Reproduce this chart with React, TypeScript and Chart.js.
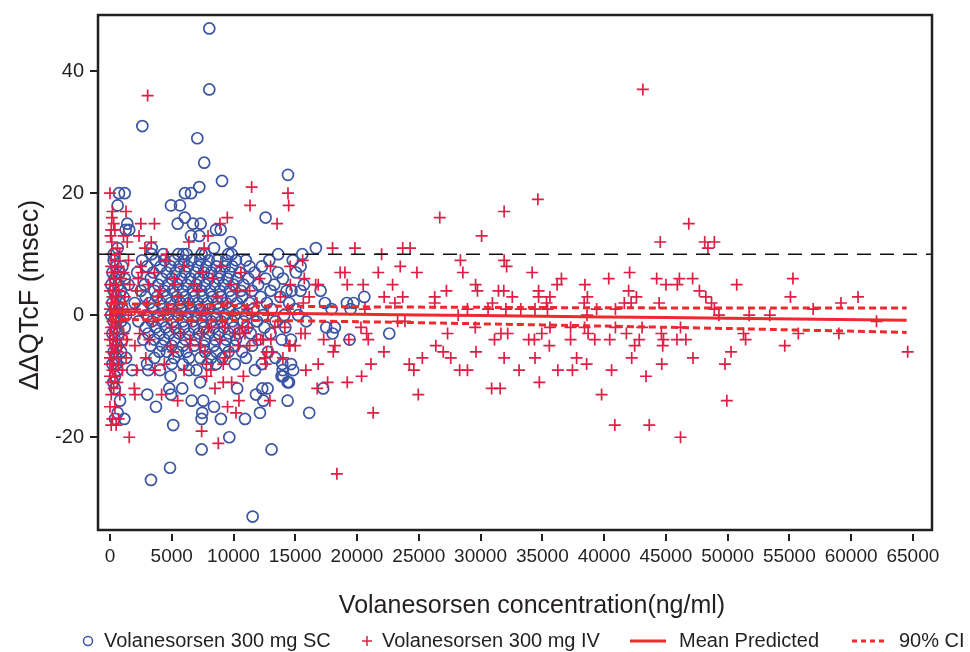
import React, { useEffect, useRef } from "react";
import { Chart, registerables } from "chart.js";

Chart.register(...registerables);

// ---------- axis settings ----------
const xTicks = [0, 5000, 10000, 15000, 20000, 25000, 30000, 35000, 40000, 45000, 50000, 55000, 60000, 65000];
const yTicks = [-20, 0, 20, 40];
const X_MIN = -970;
const X_MAX = 66550;
const Y_MIN = -35.2;
const Y_MAX = 49.2;

// ---------- Volanesorsen 300 mg SC: [ΔΔQTcF, concentrations...] ----------
const scRows: [number, number[]][] = [
  [47, [8040]],
  [37, [8040]],
  [31, [2620]],
  [29, [7070]],
  [25, [7630]],
  [23, [14410]],
  [22, [9070]],
  [21, [7230]],
  [20, [730, 1190, 6070, 6560]],
  [18, [620, 4940, 5670]],
  [16, [6050, 12600]],
  [15, [1400, 5480, 6720, 7340]],
  [14, [1270, 1560, 8580, 8960]],
  [13, [6560, 7230]],
  [12, [9790]],
  [11, [620, 3380, 8420, 16670]],
  [10, [300, 3370, 4310, 5530, 5930, 6210, 7420, 7690, 9580, 9850, 13620, 15570]],
  [9, [300, 2600, 3700, 4400, 5200, 6000, 6600, 7300, 8000, 8700, 9400, 10200, 11000, 12900, 14800]],
  [8, [500, 1000, 3000, 4100, 4900, 5600, 6300, 7100, 7800, 8600, 9300, 9900, 11300, 12300, 15430]],
  [7, [200, 800, 2200, 3500, 4600, 5300, 6100, 6900, 7600, 8200, 8900, 9700, 10500, 11700, 13600, 15060]],
  [6, [400, 1200, 3300, 4200, 5000, 5800, 6500, 7200, 8000, 8800, 9500, 10300, 11200, 12600, 14000]],
  [5, [100, 700, 1500, 2800, 3900, 4700, 5500, 6200, 7000, 7700, 8500, 9200, 10000, 10800, 12000, 13300, 15700]],
  [4, [300, 900, 2500, 3600, 4400, 5100, 5900, 6700, 7400, 8100, 8900, 9700, 10600, 11500, 13000, 14300, 14700, 15430, 17050]],
  [3, [500, 1100, 2900, 3800, 4600, 5400, 6100, 6800, 7500, 8300, 9000, 9800, 10700, 12200, 13800, 20590]],
  [2, [200, 800, 2000, 3200, 4100, 4900, 5700, 6400, 7100, 7900, 8700, 9400, 10300, 11300, 12700, 14500, 17400, 19180, 19720]],
  [1, [400, 1000, 2600, 3500, 4300, 5000, 5800, 6600, 7300, 8000, 8800, 9600, 10500, 11600, 13100, 15000, 17940, 19480]],
  [0, [100, 600, 1300, 3000, 3900, 4700, 5500, 6300, 7000, 7800, 8600, 9300, 10100, 11000, 12400, 14100, 15240]],
  [-1, [300, 900, 2300, 3400, 4200, 5100, 5900, 6700, 7500, 8200, 9000, 9900, 10800, 11900, 13400, 15890]],
  [-2, [500, 1200, 2900, 3700, 4500, 5300, 6000, 6800, 7600, 8400, 9200, 10000, 11100, 12500, 14200, 17510, 18210]],
  [-3, [200, 700, 3100, 4000, 4800, 5600, 6400, 7200, 8000, 8800, 9600, 10400, 11400, 13000, 18020, 22610]],
  [-4, [400, 1000, 2700, 3600, 4400, 5200, 6100, 6900, 7700, 8500, 9400, 10200, 12000, 13900, 14650, 19400]],
  [-5, [600, 3300, 4200, 5000, 5900, 6800, 7600, 8400, 9300, 10100, 11500]],
  [-6, [300, 900, 4000, 4600, 5500, 6200, 7700, 8600, 9600, 10700, 12800]],
  [-7, [500, 1300, 3600, 5200, 6400, 7300, 8200, 9100, 11000, 13400]],
  [-8, [200, 500, 3000, 5000, 5900, 7900, 8600, 10100, 12300, 13950, 14650]],
  [-9, [600, 1800, 3100, 4050, 6400, 7000, 11740, 13980, 14830]],
  [-10, [400, 4910, 13890, 14030]],
  [-11, [270, 7300, 14380, 14490]],
  [-12, [400, 4800, 5850, 10300, 12330, 12760, 17260]],
  [-13, [3020, 4940, 11820]],
  [-14, [810, 6610, 7550, 12410, 14380]],
  [-15, [3720, 8420]],
  [-16, [620, 7470, 12140, 16130]],
  [-17, [400, 1160, 7420, 8980, 10930]],
  [-18, [5120]],
  [-20, [9660]],
  [-22, [7420, 13080]],
  [-25, [4860]],
  [-27, [3320]],
  [-33, [11550]],
];

// ---------- Volanesorsen 300 mg IV: [ΔΔQTcF, concentrations...] ----------
const ivRows: [number, number[]][] = [
  [37, [43140]],
  [36, [3050]],
  [21, [11470]],
  [20, [0, 14410]],
  [19, [34640]],
  [18, [11340, 14470]],
  [17, [200, 1300, 31910]],
  [16, [150, 9500, 26700]],
  [15, [300, 2500, 3600, 8900, 13530, 46860]],
  [14, [100, 400]],
  [13, [50, 1100, 2350, 7940, 30090]],
  [12, [150, 1400, 3340, 6390, 44550, 48150, 48930]],
  [11, [600, 2830, 7620, 18020, 19830, 23700, 24300, 48410]],
  [10, [100, 800, 4590, 21990]],
  [9, [400, 1500, 4500, 15600, 28370, 31910]],
  [8, [100, 700, 2500, 6000, 9000, 13000, 14590, 23500, 32110]],
  [7, [150, 350, 1100, 2560, 3600, 7500, 10600, 18640, 19020, 21720, 24850, 28570, 34180, 42070]],
  [6, [300, 900, 2290, 5200, 8300, 12100, 15730, 36550, 40380, 44260, 46100, 47170, 55290]],
  [5, [0, 500, 1600, 3100, 5260, 6800, 9800, 14600, 16650, 16860, 19210, 20500, 22880, 29600, 36200, 38450, 45010, 45930, 50740]],
  [4, [0, 250, 700, 2200, 4050, 7100, 10300, 11300, 27240, 29750, 31450, 31880, 34700, 41990, 47720]],
  [3, [200, 450, 1200, 3900, 5500, 8700, 13800, 16130, 22200, 23700, 26290, 32570, 34700, 35620, 38650, 42620, 48240, 55090, 60560]],
  [2, [100, 350, 600, 3000, 6300, 9500, 11900, 15650, 23070, 26290, 30960, 35340, 38390, 41640, 42190, 44460, 48700, 59180]],
  [1, [0, 300, 1000, 2020, 4700, 5130, 7900, 11100, 14400, 20640, 28940, 30610, 32050, 33260, 34410, 35420, 39400, 40920, 48930, 56930]],
  [0, [0, 250, 500, 1500, 2700, 4300, 5800, 7400, 9900, 11500, 12800, 28190, 38620, 49300, 51750, 53420]],
  [-1, [200, 450, 800, 3500, 6600, 9100, 13600, 23290, 23880, 62060]],
  [-2, [100, 350, 600, 5000, 7960, 8200, 9310, 10700, 11200, 13350, 14160, 20320, 29570, 35620, 37290, 38420, 40920, 43080, 46190]],
  [-3, [0, 300, 1100, 2400, 5700, 7420, 10120, 10500, 10930, 15460, 15800, 20780, 27330, 31650, 32200, 34960, 38710, 41810, 44640, 51290, 55730, 59010]],
  [-4, [0, 250, 500, 1350, 3200, 6500, 8900, 11870, 12200, 12410, 13030, 17300, 19340, 20910, 31130, 33900, 34360, 37290, 39250, 40460, 42850, 44810, 45900, 46620, 51460]],
  [-5, [200, 450, 900, 2020, 4900, 6470, 7300, 10390, 11300, 14490, 14570, 15000, 18210, 26380, 35570, 42480, 44750, 54630]],
  [-6, [100, 350, 600, 5120, 7690, 9700, 12680, 13100, 18080, 22180, 26980, 29630, 50280, 64580]],
  [-7, [0, 300, 1300, 2900, 9300, 12540, 14000, 25290, 27590, 31910, 34410, 37780, 42240, 47200]],
  [-8, [0, 250, 700, 4400, 7800, 9170, 12600, 16860, 21130, 24230, 38590, 44670, 49790]],
  [-9, [200, 450, 1000, 2160, 3640, 6000, 8170, 15860, 24600, 28310, 28940, 33120, 36260, 37440, 40610]],
  [-10, [0, 400, 7820, 10800, 20370, 43400]],
  [-11, [100, 600, 9170, 9850, 17620, 19210, 34760]],
  [-12, [300, 1970, 8500, 16780, 30900, 31590]],
  [-13, [100, 800, 2020, 4180, 24960, 39800]],
  [-14, [5480, 10440, 12950, 49940]],
  [-15, [0, 400, 9520]],
  [-16, [10200, 21310]],
  [-17, [200, 700]],
  [-18, [100, 500, 40870, 43660]],
  [-19, [7420]],
  [-20, [1560, 46190]],
  [-21, [8770]],
  [-26, [18370]],
];

// ---------- model lines ----------
const modelX = [0, 10000, 20000, 30000, 40000, 50000, 64500];
const meanPredicted = [0.6, 0.38, 0.16, -0.06, -0.28, -0.5, -0.82];
const ciUpper = [1.9, 1.58, 1.38, 1.29, 1.22, 1.18, 1.18];
const ciLower = [-0.7, -0.82, -1.06, -1.41, -1.78, -2.18, -2.82];
const referenceLevel = 10;

// ---------- text ----------
const xTitle = "Volanesorsen concentration(ng/ml)";
const yTitle = "ΔΔQTcF (msec)";
const legendLabels = ["Volanesorsen 300 mg SC", "Volanesorsen 300 mg IV", "Mean Predicted", "90% CI"];

// ---------- styles ----------
const FONT = "'Liberation Sans', Arial, Helvetica, sans-serif";
const INK = "#231f20";
const SC_COLOR = "#3a54a4";
const IV_COLOR = "#de1f45";
const LINE_COLOR = "#ee2a2e";

const rowsToPoints = (rows: [number, number[]][]) =>
  rows.flatMap(([y, xs]) => xs.map((x) => ({ x, y })));

const framePlugin = {
  id: "frame",
  afterDatasetsDraw(chart: any) {
    const { ctx, chartArea: a, scales } = chart;
    ctx.save();
    ctx.strokeStyle = INK;
    ctx.lineWidth = 2.5;
    ctx.strokeRect(a.left, a.top, a.right - a.left, a.bottom - a.top);
    ctx.lineWidth = 2;
    ctx.beginPath();
    for (const v of xTicks) {
      const px = Math.round(scales.x.getPixelForValue(v));
      ctx.moveTo(px, a.bottom + 4);
      ctx.lineTo(px, a.bottom + 11);
    }
    for (const v of yTicks) {
      const py = Math.round(scales.y.getPixelForValue(v));
      ctx.moveTo(a.left - 8, py);
      ctx.lineTo(a.left, py);
    }
    ctx.stroke();
    ctx.restore();
  },
  afterDraw(chart: any) {
    const { ctx } = chart;
    ctx.save();
    ctx.fillStyle = INK;
    // axis titles
    ctx.font = `25px ${FONT}`;
    ctx.textAlign = "center";
    ctx.textBaseline = "middle";
    ctx.fillText(xTitle, 532, 606);
    ctx.save();
    ctx.translate(31, 295);
    ctx.rotate(-Math.PI / 2);
    ctx.font = `27px ${FONT}`;
    ctx.fillText(yTitle, 0, 0);
    ctx.restore();
    // legend
    const ly = 641;
    ctx.font = `20px ${FONT}`;
    ctx.textAlign = "left";
    ctx.textBaseline = "middle";
    ctx.lineWidth = 1.5;
    ctx.strokeStyle = SC_COLOR;
    ctx.beginPath();
    ctx.arc(88, ly, 4.5, 0, Math.PI * 2);
    ctx.stroke();
    ctx.fillText(legendLabels[0], 104, ly);
    ctx.strokeStyle = IV_COLOR;
    ctx.beginPath();
    ctx.moveTo(362, ly);
    ctx.lineTo(372, ly);
    ctx.moveTo(367, ly - 5);
    ctx.lineTo(367, ly + 5);
    ctx.stroke();
    ctx.fillText(legendLabels[1], 382, ly);
    ctx.strokeStyle = LINE_COLOR;
    ctx.lineWidth = 3;
    ctx.beginPath();
    ctx.moveTo(630, ly);
    ctx.lineTo(666, ly);
    ctx.stroke();
    ctx.fillText(legendLabels[2], 679, ly);
    ctx.setLineDash([5, 4]);
    ctx.beginPath();
    ctx.moveTo(852, ly);
    ctx.lineTo(887, ly);
    ctx.stroke();
    ctx.setLineDash([]);
    ctx.fillText(legendLabels[3], 899, ly);
    ctx.restore();
  },
};

export default function App() {
  const canvasRef = useRef<HTMLCanvasElement | null>(null);

  useEffect(() => {
    document.body.style.margin = "0";
    const canvas = canvasRef.current;
    if (!canvas) return;
    const chart = new Chart(canvas, {
      type: "scatter",
      data: {
        datasets: [
          {
            type: "line",
            label: legendLabels[2],
            data: modelX.map((x, i) => ({ x, y: meanPredicted[i] })),
            borderColor: LINE_COLOR,
            borderWidth: 3,
            pointRadius: 0,
            fill: false,
            tension: 0.3,
          },
          {
            type: "line",
            label: legendLabels[3],
            data: modelX.map((x, i) => ({ x, y: ciUpper[i] })),
            borderColor: LINE_COLOR,
            borderWidth: 3,
            borderDash: [7, 4],
            pointRadius: 0,
            fill: false,
            tension: 0.3,
          },
          {
            type: "line",
            label: "90% CI lower",
            data: modelX.map((x, i) => ({ x, y: ciLower[i] })),
            borderColor: LINE_COLOR,
            borderWidth: 3,
            borderDash: [7, 4],
            pointRadius: 0,
            fill: false,
            tension: 0.3,
          },
          {
            type: "line",
            label: "reference",
            data: [
              { x: X_MIN, y: referenceLevel },
              { x: X_MAX, y: referenceLevel },
            ],
            borderColor: "#111",
            borderWidth: 1.6,
            borderDash: [14, 9],
            pointRadius: 0,
            fill: false,
          },
          {
            label: legendLabels[1],
            data: rowsToPoints(ivRows),
            pointStyle: "cross",
            pointRadius: 6,
            borderColor: IV_COLOR,
            borderWidth: 1.7,
            backgroundColor: IV_COLOR,
          },
          {
            label: legendLabels[0],
            data: rowsToPoints(scRows),
            pointStyle: "circle",
            pointRadius: 5.5,
            borderColor: SC_COLOR,
            borderWidth: 1.7,
            backgroundColor: "rgba(0,0,0,0)",
          },
        ],
      },
      options: {
        animation: false,
        responsive: false,
        events: [],
        layout: { padding: { left: 0, right: 38, top: 15, bottom: 0 } },
        plugins: {
          legend: { display: false },
          tooltip: { enabled: false },
          title: { display: false },
        },
        scales: {
          x: {
            type: "linear",
            min: X_MIN,
            max: X_MAX,
            afterBuildTicks: (s: any) => {
              s.ticks = xTicks.map((v) => ({ value: v }));
            },
            afterFit: (s: any) => {
              s.height = 122;
              s.paddingLeft = 0;
              s.paddingRight = 0;
            },
            grid: { display: false, drawTicks: false, tickLength: 0 },
            border: { display: false },
            ticks: {
              autoSkip: false,
              maxRotation: 0,
              minRotation: 0,
              padding: 15,
              color: INK,
              font: { family: FONT, size: 19 },
              callback: (v: any) => String(v),
            },
          },
          y: {
            type: "linear",
            min: Y_MIN,
            max: Y_MAX,
            afterBuildTicks: (s: any) => {
              s.ticks = yTicks.map((v) => ({ value: v }));
            },
            afterFit: (s: any) => {
              s.width = 98;
              s.paddingTop = 0;
              s.paddingBottom = 0;
            },
            grid: { display: false, drawTicks: false, tickLength: 0 },
            border: { display: false },
            ticks: {
              padding: 14,
              color: INK,
              font: { family: FONT, size: 20 },
              callback: (v: any) => String(v),
            },
          },
        },
      },
      plugins: [framePlugin],
    } as any);
    return () => chart.destroy();
  }, []);

  return (
    <div style={{ width: 970, height: 652 }}>
      <canvas ref={canvasRef} width={970} height={652} style={{ display: "block" }} />
    </div>
  );
}
